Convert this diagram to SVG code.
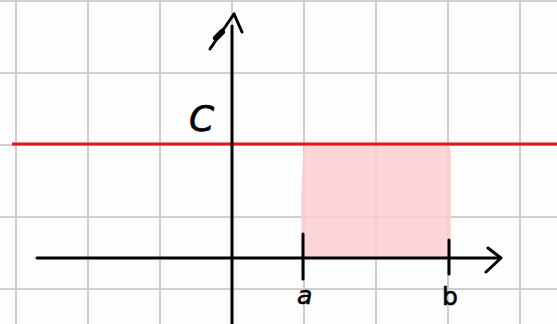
<svg xmlns="http://www.w3.org/2000/svg" width="557" height="324" viewBox="0 0 557 324">
<style>
.grid{stroke:#cfcfcf;stroke-width:2;fill:none}
.ax{stroke:#000;stroke-width:3;fill:none;stroke-linecap:round;stroke-linejoin:round}
.lbl{font-family:"DejaVu Sans",sans-serif;fill:#000;stroke:#000;stroke-width:0.6}
</style>
<rect width="557" height="324" fill="#fdfdfd"/>
<g id="grid">
<path class="grid" d="M16 0V324M88 0V324M160 0V324M232 0V324M304 0V324M376 0V324M448 0V324M520 0V324M0 1H557M0 73H557M0 145H557M0 217H557M0 289H557"/>
</g>
<g id="area">
<path d="M304 146 H446 Q451 146 451 152 V258 H304 Q298 220 304 146 Z" fill="#fbcfcf" opacity="0.85"/>
</g>
<g id="redline">
<line x1="12" y1="144" x2="557" y2="144" stroke="#e3141b" stroke-width="3"/>
</g>
<g id="connectors">
<line class="ax" x1="37" y1="258" x2="500" y2="258"/>
<path class="ax" d="M488 248 L501 258 L486 272"/>
<line class="ax" x1="232" y1="26" x2="232" y2="324"/>
<path class="ax" d="M234 14 L242 32"/>
<path class="ax" d="M210 49 L234 14" stroke-width="4"/>
<path d="M216 38 L222 32" stroke="#000" stroke-width="6" stroke-linecap="round"/>
<line class="ax" x1="303" y1="234" x2="303" y2="279"/>
<line class="ax" x1="449" y1="240" x2="449" y2="274"/>
</g>
<g id="labels">
<text class="lbl" x="189" y="131" font-size="36" font-style="italic" stroke-width="0.4">C</text>
<text class="lbl" x="297" y="304" font-size="25" font-style="italic">a</text>
<text class="lbl" x="442" y="305" font-size="25">b</text>
</g>
</svg>
